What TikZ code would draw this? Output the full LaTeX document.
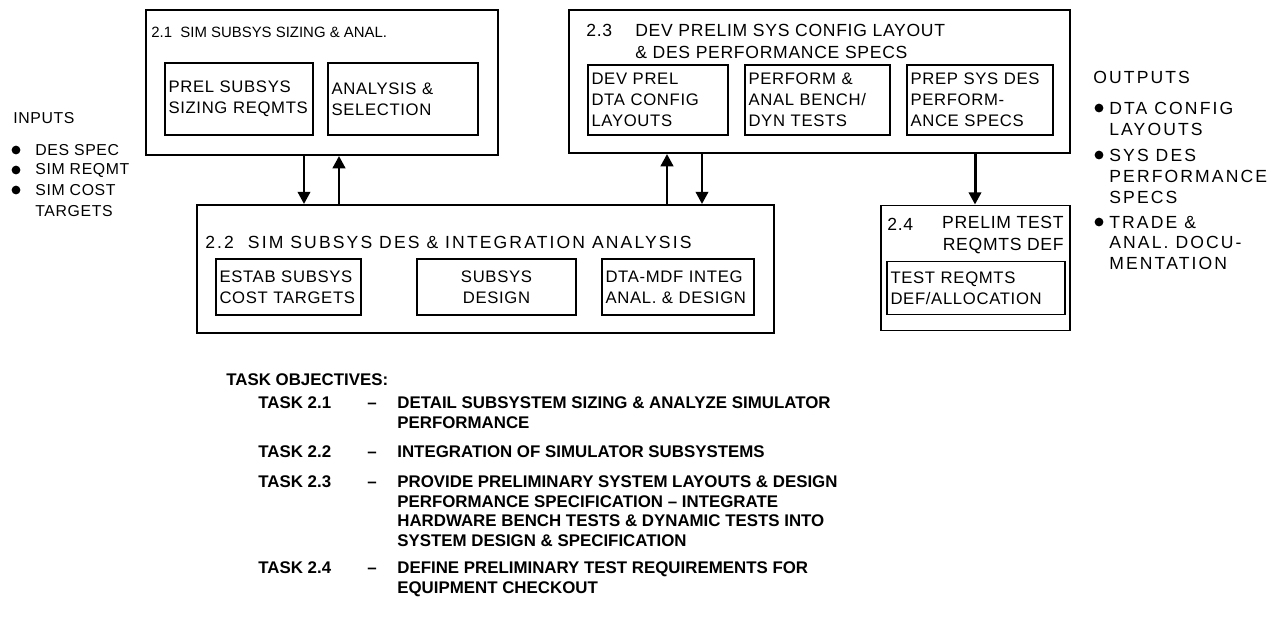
\documentclass[tikz,border=0pt]{standalone}
\usepackage{fontspec}
\setmainfont{Liberation Sans}
\newfontfamily\boxfont{Liberation Sans}[LetterSpace=4]
\newfontfamily\widefont{Liberation Sans}[LetterSpace=12]
\usetikzlibrary{arrows.meta}

\tikzset{
  outer/.style={draw, line width=1.1pt, inner sep=0pt},
  sub/.style={draw, line width=1.1pt, inner xsep=2pt, inner ysep=0pt, align=left,
    font=\boxfont\fontsize{9.5}{12}\selectfont},
  head/.style={anchor=west, align=left, inner sep=0pt, font=\boxfont\fontsize{10}{12.5}\selectfont},
  flow/.style={line width=1.7pt, -{Triangle[length=7pt,width=7pt]}},
  lbl/.style={anchor=west, inner sep=0pt, font=\boxfont\fontsize{9}{10}\selectfont},
  outlbl/.style={anchor=west, inner sep=0pt, font=\widefont\fontsize{10}{11}\selectfont},
  dot/.style={circle, fill, inner sep=0pt, minimum size=5pt},
  task/.style={anchor=base west, inner sep=0pt, font=\bfseries\fontsize{9.6}{12}\selectfont},
}

\begin{document}
\begin{tikzpicture}[x=0.02cm, y=-0.02cm]
  \useasboundingbox (0,0) rectangle (1272,630);

  % task 2.1
  \node[outer, minimum width=7.04cm, minimum height=2.9cm] (B1) at (322,82.5) {};
  \node[head, font=\fontsize{8.5}{10}\selectfont] (T1) at (151,32) {2.1\ \ SIM SUBSYS SIZING \& ANAL.};
  \node[sub, text width=2.82cm, minimum height=1.44cm] (B1a) at (239,99) {PREL SUBSYS\\SIZING REQMTS};
  \node[sub, text width=2.86cm, minimum height=1.44cm] (B1b) at (403,99) {ANALYSIS \&\\SELECTION};

  % task 2.2
  \node[outer, minimum width=11.54cm, minimum height=2.56cm] (B2) at (485.5,269) {};
  \node[head, font=\widefont\fontsize{10}{12}\selectfont] (T2) at (205,242) {2.2\ \ SIM SUBSYS DES \& INTEGRATION ANALYSIS};
  \node[sub, text width=2.76cm, minimum height=1.12cm] (B2a) at (288.5,287) {ESTAB SUBSYS\\COST TARGETS};
  \node[sub, text width=3.04cm, minimum height=1.12cm, align=center] (B2b) at (496.5,287) {SUBSYS\\DESIGN};
  \node[sub, text width=2.90cm, minimum height=1.12cm] (B2c) at (678,287) {DTA-MDF INTEG\\ANAL. \& DESIGN};

  % task 2.3
  \node[outer, minimum width=10.02cm, minimum height=2.86cm] (B3) at (819.5,81.5) {};
  \node[head] (T3n) at (586,30) {2.3};
  \node[head] (T3) at (635,41) {DEV PRELIM SYS CONFIG LAYOUT\\\& DES PERFORMANCE SPECS};
  \node[sub, text width=2.66cm, minimum height=1.40cm] (B3a) at (658,100) {DEV PREL\\DTA CONFIG\\LAYOUTS};
  \node[sub, text width=2.76cm, minimum height=1.40cm] (B3b) at (817.5,100) {PERFORM \&\\ANAL BENCH/\\DYN TESTS};
  \node[sub, text width=2.78cm, minimum height=1.40cm] (B3c) at (980,100) {PREP SYS DES\\PERFORM-\\ANCE SPECS};

  % task 2.4
  \node[outer, minimum width=3.78cm, minimum height=2.5cm] (B4) at (975.5,268) {};
  \node[head] (T4n) at (887,224) {2.4};
  \node[head, anchor=east, align=right] (T4) at (1064,235) {PRELIM TEST\\REQMTS DEF};
  \node[sub, text width=3.42cm, minimum height=1.06cm] (B4a) at (976,288) {TEST REQMTS\\DEF/ALLOCATION};

  % flows
  \coordinate (d1) at (304,0);
  \coordinate (u1) at (339,0);
  \coordinate (u2) at (667,0);
  \coordinate (d2) at (702,0);
  \coordinate (d3) at (975,0);
  \draw[flow] (d1 |- B1.south) -- (d1 |- B2.north);
  \draw[flow] (u1 |- B2.north) -- (u1 |- B1.south);
  \draw[flow] (u2 |- B2.north) -- (u2 |- B3.south);
  \draw[flow] (d2 |- B3.south) -- (d2 |- B2.north);
  \draw[flow] (d3 |- B3.south) -- (d3 |- B4.north);

  % inputs
  \node[lbl] (IN) at (13,118) {INPUTS};
  \node[dot] (i1) at (16,150) {};
  \node[lbl] (i1t) at (35,150) {DES SPEC};
  \node[dot] (i2) at (16,170) {};
  \node[lbl] (i2t) at (35,170) {SIM REQMT};
  \node[dot] (i3) at (16,190) {};
  \node[lbl] (i3t) at (35,190) {SIM COST};
  \node[lbl] (i3u) at (35,211) {TARGETS};

  % outputs
  \node[outlbl] (OUT) at (1093,77) {OUTPUTS};
  \node[dot] (o1) at (1099,108) {};
  \node[outlbl] (o1t) at (1109,108) {DTA CONFIG};
  \node[outlbl] (o1u) at (1109,129) {LAYOUTS};
  \node[dot] (o2) at (1099,155) {};
  \node[outlbl] (o2t) at (1109,155) {SYS DES};
  \node[outlbl] (o2u) at (1109,176) {PERFORMANCE};
  \node[outlbl] (o2v) at (1109,197) {SPECS};
  \node[dot] (o3) at (1099,222) {};
  \node[outlbl] (o3t) at (1109,222) {TRADE \&};
  \node[outlbl] (o3u) at (1109,242) {ANAL. DOCU-};
  \node[outlbl] (o3v) at (1109,263) {MENTATION};

  % objectives
  \node[task] (OBJ) at (226,385) {TASK OBJECTIVES:};
  \node[task] (K1) at (258,408) {TASK 2.1};
  \node[task] (K1d) at (367,408) {--};
  \node[task] (K1t) at (397,408) {DETAIL SUBSYSTEM SIZING \& ANALYZE SIMULATOR};
  \node[task] (K1u) at (397,428) {PERFORMANCE};
  \node[task] (K2) at (258,457) {TASK 2.2};
  \node[task] (K2d) at (367,457) {--};
  \node[task] (K2t) at (397,457) {INTEGRATION OF SIMULATOR SUBSYSTEMS};
  \node[task] (K3) at (258,487) {TASK 2.3};
  \node[task] (K3d) at (367,487) {--};
  \node[task] (K3t) at (397,487) {PROVIDE PRELIMINARY SYSTEM LAYOUTS \& DESIGN};
  \node[task] (K3u) at (397,507) {PERFORMANCE SPECIFICATION -- INTEGRATE};
  \node[task] (K3v) at (397,526) {HARDWARE BENCH TESTS \& DYNAMIC TESTS INTO};
  \node[task] (K3w) at (397,546) {SYSTEM DESIGN \& SPECIFICATION};
  \node[task] (K4) at (258,573) {TASK 2.4};
  \node[task] (K4d) at (367,573) {--};
  \node[task] (K4t) at (397,573) {DEFINE PRELIMINARY TEST REQUIREMENTS FOR};
  \node[task] (K4u) at (397,593) {EQUIPMENT CHECKOUT};
\end{tikzpicture}
\end{document}
